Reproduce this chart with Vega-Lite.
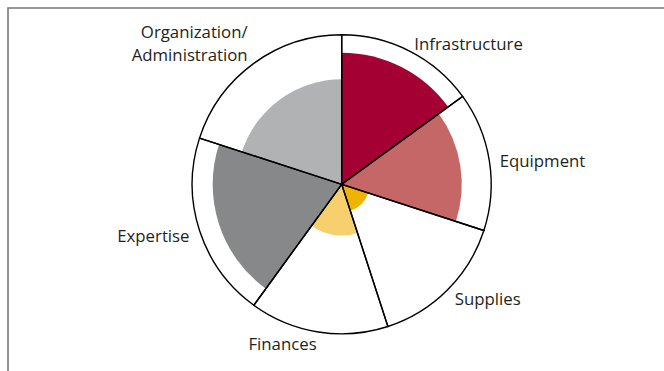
{
  "$schema": "https://vega.github.io/schema/vega-lite/v6.json",
  "autosize": "none",
  "padding": {"left": 8, "top": 8, "right": 0, "bottom": 0},
  "width": 667.4,
  "height": 380,
  "background": "white",
  "view": {"stroke": "#777777", "strokeWidth": 1.6},
  "config": {"view": {"stroke": "#777777", "strokeWidth": 1.6}},
  "data": {
    "values": [
      {"idx": 1, "category": "Infrastructure", "share": 3, "value": 88},
      {"idx": 2, "category": "Equipment", "share": 3, "value": 80.3},
      {"idx": 3, "category": "Supplies", "share": 3, "value": 18.6},
      {"idx": 4, "category": "Finances", "share": 3, "value": 34.3},
      {"idx": 5, "category": "Expertise", "share": 4, "value": 86.3},
      {"idx": 6, "category": "Organization/\nAdministration", "share": 4, "value": 70.2}
    ]
  },
  "encoding": {
    "theta": {"field": "share", "type": "quantitative", "stack": true, "scale": {"domain": [0, 20]}},
    "order": {"field": "idx", "type": "quantitative"}
  },
  "layer": [
    {
      "transform": [
        {"stack": "share", "groupby": [], "sort": [{"field": "idx", "order": "ascending"}], "as": ["t0", "t1"]}
      ],
      "mark": {"type": "arc", "yOffset": -13.7, "strokeWidth": 0},
      "encoding": {
        "theta": {"field": "t0", "type": "quantitative", "scale": {"domain": [0, 20]}},
        "theta2": {"field": "t1"},
        "radius": {
          "field": "value",
          "type": "quantitative",
          "scale": {"type": "linear", "domain": [0, 100], "range": [0, 149.5], "zero": true}
        },
        "color": {
          "field": "category",
          "type": "nominal",
          "legend": null,
          "scale": {
            "domain": ["Infrastructure", "Equipment", "Supplies", "Finances", "Expertise", "Organization/\nAdministration"],
            "range": ["#a50034", "#c56766", "#f0b400", "#f7cf6c", "#87888a", "#b1b2b4"]
          }
        }
      }
    },
    {
      "mark": {
        "type": "arc",
        "yOffset": -13.7,
        "radius": 149.5,
        "fill": "white",
        "fillOpacity": 0,
        "stroke": "#000000",
        "strokeWidth": 1.4
      }
    },
    {
      "mark": {
        "type": "text",
        "yOffset": -10.7,
        "radius": 160,
        "font": "Open Sans",
        "fontSize": 16.8,
        "color": "#231f20",
        "lineBreak": "\n",
        "lineHeight": 23,
        "baseline": "middle",
        "dy": {"expr": "datum.idx == 6 ? -25 : 0"},
        "align": {"expr": "datum.idx >= 4 ? 'right' : 'left'"}
      },
      "encoding": {
        "text": {"field": "category", "type": "nominal"}
      }
    }
  ]
}
